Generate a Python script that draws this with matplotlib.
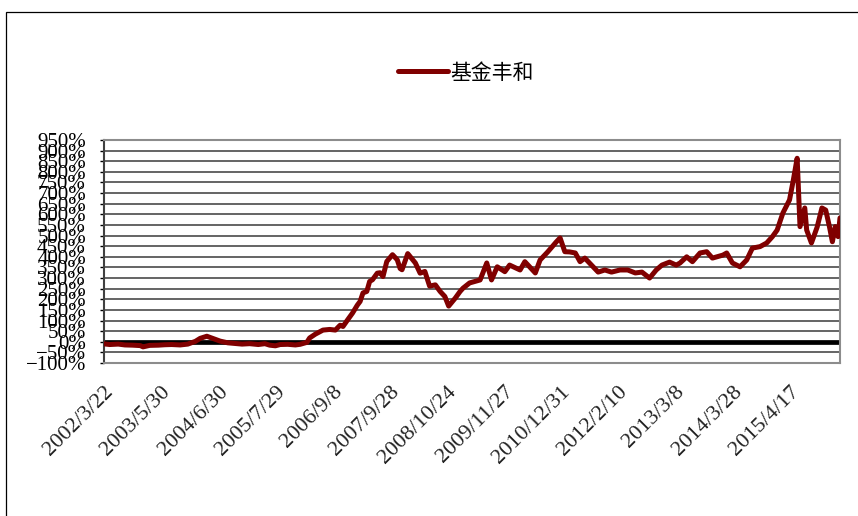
import numpy as np
import matplotlib
matplotlib.use("Agg")
import matplotlib.pyplot as plt
from matplotlib.patches import Rectangle

# weekly category axis: week index since 2002/3/22, cumulative return in %
weeks = [0, 6, 15, 22, 30, 38, 41, 48, 57, 64, 71, 80, 88, 96, 101, 108, 114, 122,
         130, 138, 145, 153, 162, 169, 174, 180, 185, 193, 201, 206, 213, 216, 222,
         230, 237, 243, 248, 251, 256, 261, 266, 269, 272, 276, 279, 282, 287, 290,
         293, 297, 300, 303, 308, 311, 313, 319, 327, 332, 337, 342, 348, 353, 358,
         362, 369, 374, 377, 384, 395, 402, 407, 413, 421, 426, 437, 442, 453, 458,
         466, 475, 479, 484, 489, 495, 500, 505, 512, 519, 526, 533, 542, 550, 558,
         565, 573, 580, 586, 594, 601, 605, 612, 618, 626, 633, 639, 650, 654, 660,
         668, 675, 681, 689, 696, 702, 707, 713, 720, 724, 728, 731, 736, 738, 743,
         749, 754, 758, 762, 765, 768, 771, 773]
fund = [-10, -13, -11, -15, -16, -18, -24, -17, -16, -14, -13, -15, -11, 2, 16, 26, 16, 3,
        -5, -8, -11, -9, -13, -9, -16, -19, -13, -12, -15, -12, -3, 18, 36,
        55, 58, 55, 78, 72, 104, 135, 172, 190, 230, 237, 284, 292, 323, 325,
        307, 378, 394, 410, 386, 345, 339, 415, 371, 323, 331, 262, 268, 237, 213,
        168, 206, 237, 252, 277, 291, 371, 291, 353, 330, 361, 338, 377, 324, 385,
        423, 470, 489, 424, 423, 418, 377, 394, 361, 328, 338, 328, 338, 338, 324,
        328, 300, 338, 361, 375, 361, 371, 400, 377, 418, 424, 394, 408, 418, 371,
        353, 385, 441, 448, 465, 495, 526, 606, 668, 762, 864, 542, 630, 526, 465,
        540, 630, 620, 540, 471, 542, 495, 583]

tick_weeks = [0, 60, 120, 180, 240, 300, 360, 420, 480, 540, 600, 660, 720]
tick_labels = ["2002/3/22", "2003/5/30", "2004/6/30", "2005/7/29", "2006/9/8",
               "2007/9/28", "2008/10/24", "2009/11/27", "2010/12/31", "2012/2/10",
               "2013/3/8", "2014/3/28", "2015/4/17"]
y_ticks = list(range(-100, 951, 50))

fig = plt.figure(figsize=(8.58, 5.16), dpi=100)
ax = fig.add_axes([104/858, 1-363/516, (840-104)/858, (363-140)/516])

# outer chart frame (partly cut off at right / bottom)
fig.patches.append(Rectangle((6/858, -0.1), 1.2, 1.1-12/516, transform=fig.transFigure,
                             fill=False, edgecolor="black", linewidth=0.9))

for v in y_ticks:
    ax.axhline(v, color="#3a3a3a", linewidth=1.1, zorder=1)
ax.axhline(0, color="black", linewidth=3.4, zorder=2)

ax.plot(weeks, fund, color="#800000", linewidth=3.6, solid_capstyle="round",
        solid_joinstyle="round", label="基金丰和", zorder=3)

ax.set_xlim(0, 773)
ax.set_ylim(-100, 950)
ax.set_yticks(y_ticks)
ax.set_yticklabels([("−%d%%" % -v) if v < 0 else "%d%%" % v for v in y_ticks],
                   family="Liberation Serif", fontsize=15)
ax.tick_params(axis="y", length=3, width=1, pad=10, colors="black")
ax.set_xticks(tick_weeks)
ax.set_xticklabels(tick_labels, rotation=45, ha="right", va="top",
                   rotation_mode="anchor", family="Liberation Serif",
                   fontsize=16, color="#222222")
ax.tick_params(axis="x", length=0, pad=14)

ax.spines["left"].set_color("#404040")
for s in ["top", "right", "bottom"]:
    ax.spines[s].set_color("#8c8c8c")
for s in ax.spines.values():
    s.set_linewidth(1.5)

fig.legend(loc="center", bbox_to_anchor=(0.543, 0.859), frameon=False,
           handlelength=2.4, handletextpad=0.15,
           prop={"family": ["Noto Sans CJK SC", "DejaVu Sans"], "size": 15})

fig.savefig("out.png", dpi=100)
